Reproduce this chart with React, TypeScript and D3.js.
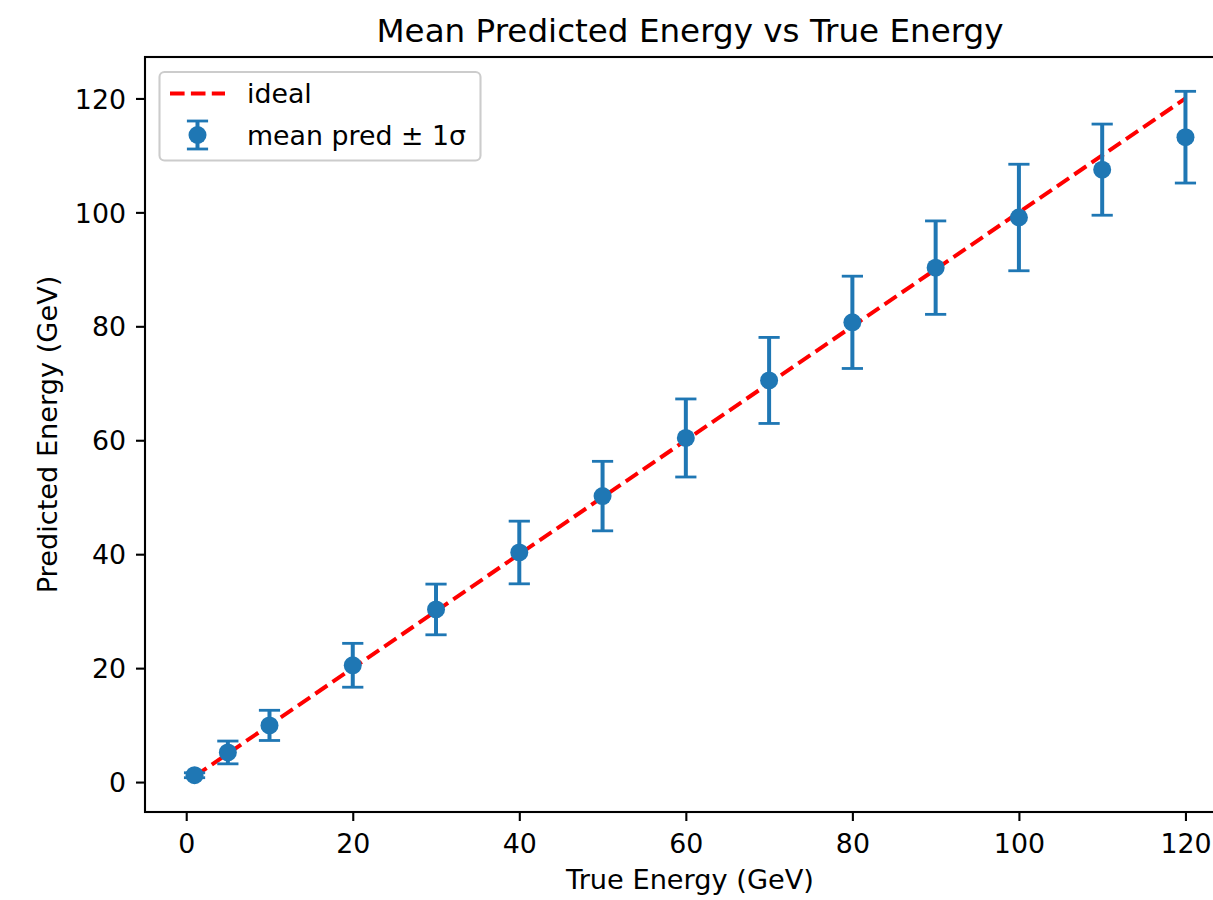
import React, { useEffect, useRef } from "react";
import * as d3 from "d3";

const WIDTH = 1213;
const HEIGHT = 900;
const PLOT = { left: 145, right: 1235, top: 57, bottom: 812 };
const FONT = "'DejaVu Sans', sans-serif";
const BLUE = "#1f77b4";

// values
const trueEnergy = [1, 5, 10, 20, 30, 40, 50, 60, 70, 80, 90, 100, 110, 120];
const meanPred = [1.2, 5.2, 9.95, 20.5, 30.3, 40.3, 50.2, 60.4, 70.5, 80.7, 90.3, 99.1, 107.5, 113.2];
const sigma = [0.43, 2.0, 2.65, 3.85, 4.45, 5.5, 6.1, 6.85, 7.55, 8.1, 8.2, 9.35, 8.0, 8.05];
const idealRange = [1, 120];
const xTicks = [0, 20, 40, 60, 80, 100, 120];
const yTicks = [0, 20, 40, 60, 80, 100, 120];

const padded = (lo: number, hi: number): [number, number] => {
  const m = (hi - lo) * 0.05;
  return [lo - m, hi + m];
};

export default function App() {
  const ref = useRef<SVGSVGElement>(null);

  useEffect(() => {
    const svg = d3.select(ref.current);
    svg.selectAll("*").remove();

    const points = trueEnergy.map((x, i) => ({ x, y: meanPred[i], s: sigma[i] }));
    const yLo = Math.min(d3.min(points, d => d.y - d.s) as number, idealRange[0]);
    const yHi = Math.max(d3.max(points, d => d.y + d.s) as number, idealRange[1]);

    const x = d3.scaleLinear().domain(padded(idealRange[0], idealRange[1])).range([PLOT.left, PLOT.right]);
    const y = d3.scaleLinear().domain(padded(yLo, yHi)).range([PLOT.bottom, PLOT.top]);

    svg.append("rect").attr("width", WIDTH).attr("height", HEIGHT).attr("fill", "white");

    // axes
    const xAxis = svg
      .append("g")
      .attr("transform", `translate(0,${PLOT.bottom})`)
      .call(d3.axisBottom(x).tickValues(xTicks).tickSize(9).tickSizeOuter(0).tickFormat(d3.format("d")));
    xAxis.select(".domain").remove();
    xAxis.selectAll(".tick line").attr("stroke", "black").attr("stroke-width", 2.1);
    xAxis
      .selectAll(".tick text")
      .attr("y", 41)
      .attr("dy", null)
      .attr("fill", "black")
      .style("font-family", FONT)
      .style("font-size", "26.8px");

    const yAxis = svg
      .append("g")
      .attr("transform", `translate(${PLOT.left},0)`)
      .call(d3.axisLeft(y).tickValues(yTicks).tickSize(9).tickPadding(10).tickSizeOuter(0).tickFormat(d3.format("d")));
    yAxis.select(".domain").remove();
    yAxis.selectAll(".tick line").attr("stroke", "black").attr("stroke-width", 2.1);
    yAxis
      .selectAll(".tick text")
      .attr("dy", "0.36em")
      .attr("fill", "black")
      .style("font-family", FONT)
      .style("font-size", "26.8px");

    // spines
    svg
      .append("rect")
      .attr("x", PLOT.left)
      .attr("y", PLOT.top)
      .attr("width", PLOT.right - PLOT.left)
      .attr("height", PLOT.bottom - PLOT.top)
      .attr("fill", "none")
      .attr("stroke", "black")
      .attr("stroke-width", 2.1);

    // ideal line
    const line = d3
      .line<number>()
      .x(d => x(d))
      .y(d => y(d));
    svg
      .append("path")
      .attr("d", line(idealRange))
      .attr("fill", "none")
      .attr("stroke", "red")
      .attr("stroke-width", 4)
      .attr("stroke-dasharray", "14.6,6.3");

    // error bars
    const bars = svg.append("g").attr("stroke", BLUE);
    const cap = 10.6;
    points.forEach(p => {
      const px = x(p.x);
      bars
        .append("line")
        .attr("x1", px)
        .attr("x2", px)
        .attr("y1", y(p.y - p.s))
        .attr("y2", y(p.y + p.s))
        .attr("stroke-width", 4);
      [p.y - p.s, p.y + p.s].forEach(v => {
        bars
          .append("line")
          .attr("x1", px - cap)
          .attr("x2", px + cap)
          .attr("y1", y(v))
          .attr("y2", y(v))
          .attr("stroke-width", 2.8);
      });
    });
    svg
      .append("g")
      .selectAll("circle")
      .data(points)
      .join("circle")
      .attr("cx", d => x(d.x))
      .attr("cy", d => y(d.y))
      .attr("r", 9)
      .attr("fill", BLUE);

    // legend
    const lg = svg.append("g");
    lg.append("rect")
      .attr("x", 159.5)
      .attr("y", 72)
      .attr("width", 321)
      .attr("height", 88.5)
      .attr("rx", 5)
      .attr("fill", "white")
      .attr("fill-opacity", 0.8)
      .attr("stroke", "#cccccc")
      .attr("stroke-width", 2.1);
    lg.append("line")
      .attr("x1", 170)
      .attr("x2", 225)
      .attr("y1", 93.5)
      .attr("y2", 93.5)
      .attr("stroke", "red")
      .attr("stroke-width", 4)
      .attr("stroke-dasharray", "14.6,6.3");
    const ly = 135;
    lg.append("line").attr("x1", 197.5).attr("x2", 197.5).attr("y1", ly - 14).attr("y2", ly + 14).attr("stroke", BLUE).attr("stroke-width", 4);
    [ly - 14, ly + 14].forEach(v =>
      lg.append("line").attr("x1", 197.5 - cap).attr("x2", 197.5 + cap).attr("y1", v).attr("y2", v).attr("stroke", BLUE).attr("stroke-width", 2.8)
    );
    lg.append("circle").attr("cx", 197.5).attr("cy", ly).attr("r", 9).attr("fill", BLUE);
    const legendText = ["ideal", "mean pred ± 1σ"];
    legendText.forEach((t, i) =>
      lg.append("text")
        .attr("x", 247)
        .attr("y", 93.5 + i * 41.5)
        .attr("dy", "0.36em")
        .style("font-family", FONT)
        .style("font-size", "26.8px")
        .text(t)
    );

    // titles
    svg.append("text")
      .attr("x", (PLOT.left + PLOT.right) / 2)
      .attr("y", 41.5)
      .attr("text-anchor", "middle")
      .style("font-family", FONT)
      .style("font-size", "32.6px")
      .text("Mean Predicted Energy vs True Energy");
    svg.append("text")
      .attr("x", (PLOT.left + PLOT.right) / 2)
      .attr("y", 889)
      .attr("text-anchor", "middle")
      .style("font-family", FONT)
      .style("font-size", "27.2px")
      .text("True Energy (GeV)");
    svg.append("text")
      .attr("transform", `translate(56.5,${(PLOT.top + PLOT.bottom) / 2}) rotate(-90)`)
      .attr("text-anchor", "middle")
      .style("font-family", FONT)
      .style("font-size", "27.2px")
      .text("Predicted Energy (GeV)");
  }, []);

  return (
    <svg
      ref={ref}
      width={WIDTH}
      height={HEIGHT}
      style={{ position: "absolute", left: 0, top: 0, display: "block" }}
    />
  );
}
